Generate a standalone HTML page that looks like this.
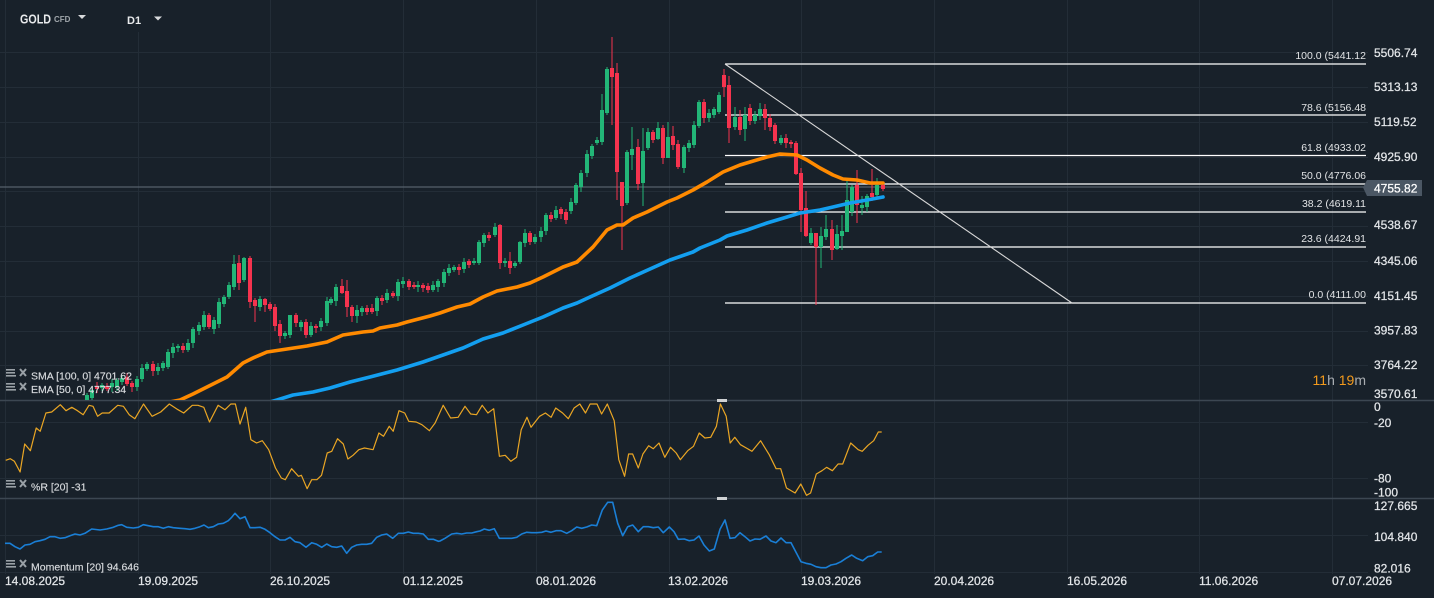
<!DOCTYPE html>
<html><head><meta charset="utf-8">
<style>
html,body{margin:0;padding:0;background:#18212a;overflow:hidden;}
svg{display:block;font-family:"Liberation Sans",Arial,sans-serif;}
</style></head>
<body>
<svg id="c" width="1434" height="598" viewBox="0 0 1434 598" xmlns="http://www.w3.org/2000/svg">
<defs><clipPath id="mp"><rect x="0" y="0" width="1368" height="400"/></clipPath></defs>
<rect width="1434" height="598" fill="#18212a"/>
<g id="grid" stroke="#232d37" stroke-width="1" shape-rendering="crispEdges"></g>
<rect x="100" y="0" width="80" height="32" fill="#18212a"/>
<!-- pane separators -->
<line x1="0" y1="400.5" x2="1434" y2="400.5" stroke="#3c4752" stroke-width="1.5"/>
<line x1="0" y1="498.5" x2="1434" y2="498.5" stroke="#3c4752" stroke-width="1.5"/>
<rect x="717" y="399" width="10" height="3" fill="#cfd2d4"/>
<rect x="717" y="497" width="10" height="3" fill="#cfd2d4"/>
<!-- current price line -->
<line x1="0" y1="187" x2="1366" y2="187" stroke="#56616b" stroke-width="1.3"/>
<!-- fib -->
<g stroke="#ffffff" stroke-width="1.3">
<line x1="725" y1="64" x2="1366" y2="64"/>
<line x1="725" y1="115" x2="1366" y2="115"/>
<line x1="725" y1="155.5" x2="1366" y2="155.5"/>
<line x1="725" y1="184" x2="1366" y2="184"/>
<line x1="725" y1="212" x2="1366" y2="212"/>
<line x1="725" y1="247" x2="1366" y2="247"/>
<line x1="725" y1="303" x2="1366" y2="303"/>
</g>
<line x1="725" y1="64" x2="1072" y2="303" stroke="#d8d8d8" stroke-width="1.1"/>
<g fill="#e2e4e6" font-size="10.5" text-anchor="end">
<text x="1366" y="59">100.0 (5441.12</text>
<text x="1366" y="111">78.6 (5156.48</text>
<text x="1366" y="151">61.8 (4933.02</text>
<text x="1366" y="179">50.0 (4776.06</text>
<text x="1366" y="207">38.2 (4619.11</text>
<text x="1366" y="242">23.6 (4424.91</text>
<text x="1366" y="298">0.0 (4111.00</text>
</g>
<g id="candles" clip-path="url(#mp)"></g>
<g clip-path="url(#mp)" fill="none" stroke-linejoin="round" stroke-linecap="round">
<polyline id="ema" stroke="#ff8a00" stroke-width="3.6"/>
<polyline id="sma" stroke="#139ff0" stroke-width="3.6"/>
</g>
<polyline id="wr" fill="none" stroke="#eaa624" stroke-width="1.2" stroke-linejoin="round"/>
<polyline id="mom" fill="none" stroke="#1a7fd6" stroke-width="1.6" stroke-linejoin="round"/>
<!-- right axis labels -->
<g fill="#e2e5e8" stroke="#e2e5e8" stroke-width="0.25" font-size="12">
<text x="1374" y="57">5506.74</text>
<text x="1374" y="91">5313.13</text>
<text x="1374" y="126">5119.52</text>
<text x="1374" y="161">4925.90</text>
<text x="1374" y="229">4538.67</text>
<text x="1374" y="265">4345.06</text>
<text x="1374" y="300">4151.45</text>
<text x="1374" y="334.5">3957.83</text>
<text x="1374" y="369">3764.22</text>
<text x="1374" y="398">3570.61</text>
<text x="1374" y="411">0</text>
<text x="1374" y="427">-20</text>
<text x="1374" y="482.5">-80</text>
<text x="1374" y="496.5">-100</text>
<text x="1374" y="510">127.665</text>
<text x="1374" y="541">104.840</text>
<text x="1374" y="572.5">82.016</text>
</g>
<polygon points="1363,187.5 1367,180 1422,180 1422,196 1367,196" fill="#4b5764"/>
<text x="1374" y="192.5" fill="#ffffff" stroke="#ffffff" stroke-width="0.25" font-size="12">4755.82</text>
<text x="1366" y="385" font-size="14" text-anchor="end"><tspan fill="#f39a1c">11</tspan><tspan fill="#a9adb1">h </tspan><tspan fill="#f39a1c">19</tspan><tspan fill="#a9adb1">m</tspan></text>
<!-- date axis -->
<g fill="#e2e5e8" stroke="#e2e5e8" stroke-width="0.25" font-size="12">
<text x="5" y="585">14.08.2025</text>
<text x="138" y="585">19.09.2025</text>
<text x="270" y="585">26.10.2025</text>
<text x="403" y="585">01.12.2025</text>
<text x="536" y="585">08.01.2026</text>
<text x="668" y="585">13.02.2026</text>
<text x="801" y="585">19.03.2026</text>
<text x="934" y="585">20.04.2026</text>
<text x="1067" y="585">16.05.2026</text>
<text x="1199" y="585">11.06.2026</text>
<text x="1332" y="585">07.07.2026</text>
</g>
<!-- header -->
<text x="20" y="23.5" fill="#e8eaec" font-size="12.5" font-weight="bold" textLength="31" lengthAdjust="spacingAndGlyphs">GOLD</text>
<text x="54" y="22" fill="#a0a6ab" font-size="8" font-weight="bold">CFD</text>
<polygon points="78,15 86,15 82,19" fill="#d8dadc"/>
<text x="127" y="24" fill="#e8eaec" font-size="11" font-weight="bold">D1</text>
<polygon points="154,16.5 162,16.5 158,20.5" fill="#d8dadc"/>
<!-- legends -->
<g id="leg"></g>
<g fill="#d9dcdf" stroke="#d9dcdf" stroke-width="0.15" font-size="10.5">
<text x="31" y="379.5">SMA [100, 0] 4701.62</text>
<text x="31" y="393">EMA [50, 0] 4777.34</text>
<text x="31" y="490.5">%R [20] -31</text>
<text x="31" y="570.5">Momentum [20] 94.646</text>
</g>
</svg>
<script>
(function(){
var NS="http://www.w3.org/2000/svg";
function el(t,a,p){var e=document.createElementNS(NS,t);for(var k in a)e.setAttribute(k,a[k]);p.appendChild(e);return e;}
var g=document.getElementById('grid');
[52,87,121.5,156.5,191,226,261,295.5,330.5,365,422,478,535,571.5].forEach(function(y){el('line',{x1:0,y1:Math.round(y)+.5,x2:1368,y2:Math.round(y)+.5},g);});
for(var k=0;k<=10;k++){var x=Math.round(5+k*132.7)+.5;el('line',{x1:x,y1:0,x2:x,y2:574},g);}
var C=[[87,395,400,1],[92,390,398,1],[97,386,389,0],[102,385,388,1],[107,386,389,0],[112,383,387,1],[117,380,387,1],[122,378,382,1],[127,377,384,0],[132,383,387,0],[137,379,387,1],[142,368,379,1],[147,364,369,1],[153,364,371,0],[158,367,371,1],[163,363,368,1],[168,352,367,1],[173,347,353,1],[178,346,348,1],[183,346,350,0],[188,343,350,1],[193,329,343,1],[199,325,331,1],[204,315,327,1],[209,315,327,0],[214,320,329,1],[219,302,324,1],[224,297,304,1],[229,285,297,1],[234,264,287,1],[239,263,283,0],[244,258,280,1],[250,258,302,0],[255,300,306,0],[260,299,307,1],[265,299,305,0],[270,304,309,0],[275,307,326,0],[280,324,336,0],[285,333,336,1],[290,315,335,1],[296,315,323,0],[301,322,327,1],[306,322,335,0],[311,326,335,1],[316,326,328,0],[321,321,327,1],[327,301,323,1],[331,299,303,1],[336,287,301,1],
[342,286,293,0],[347,291,307,0],[352,307,316,0],[357,310,316,1],[362,308,312,1],[367,308,312,0],[372,308,312,0],[377,298,311,1],[382,298,301,0],[387,293,300,1],[393,293,296,0],[398,282,296,1],[403,281,284,1],[409,281,287,0],[414,285,287,0],[418,285,287,1],[423,285,288,0],[428,286,290,0],[433,285,290,1],[438,281,287,1],[444,272,283,1],[449,268,273,1],[454,267,270,1],[459,267,270,0],[464,262,269,1],[469,261,265,0],[474,261,263,1],[479,242,263,1],[484,235,243,1],[489,235,238,0],[495,227,235,1],[500,225,263,0],[505,261,263,1],[510,261,268,0],[515,263,266,1],[520,242,262,1],[525,233,243,1],[530,233,242,0],[535,237,242,1],[541,231,237,1],[546,215,231,1],[551,215,219,0],[556,210,218,1],[561,209,214,0],[566,212,220,0],
[571,202,211,1],[576,185,203,1],[581,173,187,1],[587,154,173,1],[592,146,156,1],[597,140,143,1],[602,110,142,1],[607,69,113,1],[612,68,77,0],[617,73,172,0],[622,182,206,0],[627,152,203,1],[632,149,155,1],[638,147,184,0],[643,151,183,1],[648,132,148,1],[653,132,140,0],[658,128,139,1],[663,128,158,0],[668,137,158,1],[673,136,145,0],[678,144,167,0],[684,147,168,1],[689,143,148,1],[694,125,145,1],[699,102,126,1],[704,102,118,0],[709,113,118,1],[714,109,115,1],[719,95,112,1],[724,75,87,0],[729,85,128,0],
[735,117,127,1],[740,117,130,0],[745,115,129,1],[750,108,121,0],[755,115,121,1],[760,109,116,1],[765,109,118,0],[770,118,127,0],[775,125,141,0],[781,138,143,1],[786,138,143,0],[791,142,144,0],[796,143,174,0],[801,173,210,0],[806,208,236,0],[811,233,243,1],[816,233,247,0],[821,236,247,1],[826,229,237,1],[832,229,250,0],[837,234,249,1],[842,231,236,1],[847,200,232,1],[852,187,212,1],[857,185,205,0],[862,205,208,1],[867,196,207,1],[872,193,197,0],[877,185,195,1],[883,185,189,0]];
var W={612:[37,125],617:[63,200],622:[182,250],724:[69,97],729:[76,143],816:[233,305],857:[170,223],862:[196,215],872:[169,201],250:[256,308],239:[255,290],234:[255,290],244:[257,282],255:[298,322],265:[298,312],280:[320,343],290:[315,338],296:[313,327],347:[280,317],342:[279,294],352:[305,322],357:[305,323],500:[224,269],479:[240,265],510:[252,274],520:[241,264],602:[94,145],607:[67,115],627:[150,205],632:[127,170],638:[139,190],643:[128,206],648:[128,150],658:[122,140],663:[125,164],668:[122,158],673:[126,150],735:[107,130],740:[110,135],745:[107,141],750:[104,125],760:[103,120],765:[104,130],796:[141,175],801:[168,232],806:[191,237],811:[228,245],821:[227,268],826:[215,240],832:[220,260],837:[225,250],842:[215,250],847:[180,232],877:[178,197]};
var cg=document.getElementById('candles');
C.forEach(function(c,i){var col=c[3]?'#22b677':'#f5334e';var w=W[c[0]]||[c[1]-2-(i%3),c[2]+2+((i*7)%4)];
el('rect',{x:c[0]-0.5,y:w[0],width:1,height:w[1]-w[0],fill:col},cg);
el('rect',{x:c[0]-2,y:c[1],width:4,height:Math.max(1.5,c[2]-c[1]),fill:col},cg);});
var ema=[[170,402],[180,400],[193,394],[213,384],[227,377],[243,363],[253,358],[267,352],[287,349],[307,346],[327,342],[343,335],[363,332],[373,331],[380,328],[397,325],[407,322],[430,316],[440,313],[457,307],[470,304],[483,297],[497,291],[517,287],[530,283],[543,277],[563,267],[577,262],[593,247],[607,230],[617,225],[623,225],[633,218],[647,212],[667,202],[677,198],[693,190],[707,182],[723,172],[740,165],[750,162],[767,157],[780,154],[797,155],[807,160],[820,168],[833,175],[843,179],[857,180],[870,183],[883,183]];
var sma=[[270,402],[277,400],[293,395],[313,392],[330,388],[350,382],[370,377],[397,370],[423,362],[443,355],[463,348],[483,339],[503,333],[523,325],[543,317],[563,308],[577,303],[590,297],[610,288],[630,278],[650,269],[670,260],[693,252],[700,248],[720,240],[727,236],[747,230],[767,223],[787,217],[800,213],[820,210],[833,207],[850,203],[867,200],[883,197]];
function pts(a){return a.map(function(p){return p[0].toFixed(1)+','+p[1].toFixed(1);}).join(' ');}
document.getElementById('ema').setAttribute('points',pts(ema));
document.getElementById('sma').setAttribute('points',pts(sma));
var wr=[[10,187],[18,182],[25,190],[35,222],[43,138],[53,158],[63,90],[70,100],[80,45],[90,42],[105,20],[115,38],[125,28],[135,38],[145,50],[155,22],[162,25],[170,55],[178,45],[190,45],[205,22],[215,25],[225,50],[235,62],[250,18],[265,55],[280,42],[295,18],[310,35],[320,45],[335,22],[345,22],[355,28],[365,72],[380,22],[392,35],[402,18],[410,18],[418,78],[428,28],[437,125],[447,135],[457,128],[468,155],[480,210],[490,240],[497,245],[508,212],[520,235],[525,232],[535,272],[543,245],[552,245],[560,232],[570,165],[578,160],[588,122],[598,138],[606,183],[615,172],[625,155],[635,150],[650,155],[660,105],[668,115],[678,85],[685,100],[695,38],[705,45],[712,70],[725,72],[735,80],[748,98],[758,75],[772,22],[785,60],[798,58],[810,25],[820,48],[830,50],[840,22],[850,45],[860,32],[870,175],[880,172],[890,190],[900,178],[908,95],[918,58],[925,88],[940,55],[950,45],[960,58],[968,30],[980,45],[990,62],[1000,30],[1010,18],[1020,45],[1028,18],[1040,18],[1048,48],[1058,18],[1070,68],[1078,185],[1088,235],[1095,168],[1102,168],[1112,210],[1120,168],[1130,143],[1138,152],[1148,135],[1158,178],[1168,148],[1178,165],[1185,185],[1198,158],[1208,145],[1218,105],[1228,120],[1238,118],[1248,85],[1255,18],[1265,55],[1272,135],[1280,118],[1290,140],[1300,150],[1310,160],[1325,128],[1340,170],[1352,212],[1360,212],[1370,270],[1385,285],[1395,258],[1405,292],[1412,285],[1422,228],[1432,218],[1440,208],[1450,218],[1460,198],[1468,198],[1482,135],[1495,155],[1502,160],[1512,142],[1522,128],[1530,102],[1536,102]].map(function(p){return [p[0]/1.742,p[1]/3+398];});
document.getElementById('wr').setAttribute('points',pts(wr));
var m1=[[15,160],[30,160],[45,170],[60,177],[75,165],[90,163],[105,155],[120,152],[135,148],[150,140],[165,140],[180,145],[195,143],[210,137],[225,132],[240,135],[255,130],[275,117],[300,120],[320,117],[340,112],[355,106],[365,104],[380,112],[400,114],[415,112],[430,104],[445,107],[460,110],[475,110],[490,115],[505,110],[520,113],[540,115],[555,116],[570,118],[585,115],[600,110],[612,105],[625,113],[640,110],[655,102],[670,100],[685,92],[695,82],[705,70],[720,86],[735,80],[750,113],[765,113],[780,112],[795,118],[810,128],[825,140],[840,150],[855,150],[870,142],[885,155],[900,158],[918,172],[935,158],[950,163],[965,172],[980,162],[995,170],[1010,172],[1025,168],[1040,190],[1055,172],[1070,165],[1085,163],[1100,163],[1115,160],[1130,142],[1145,135],[1160,132],[1178,145],[1195,130],[1210,130],[1225,126],[1240,130],[1255,130],[1270,132],[1285,148],[1300,148],[1315,154]].map(function(p){return [p[0]/3,p[1]/3+490];});
var m2=[[0,138],[15,130],[35,117],[50,115],[65,117],[80,114],[95,114],[110,110],[120,108],[133,102],[148,106],[163,101],[178,130],[195,130],[215,130],[230,127],[245,117],[260,112],[275,113],[290,113],[305,112],[318,108],[333,112],[348,107],[363,107],[380,115],[395,107],[410,96],[425,100],[440,96],[455,90],[470,92],[487,45],[503,22],[518,22],[533,85],[548,122],[563,95],[578,90],[595,110],[610,95],[625,95],[640,98],[655,96],[670,113],[688,96],[702,110],[715,133],[733,132],[748,137],[762,135],[777,123],[792,150],[808,168],[823,162],[840,103],[855,75],[870,130],[885,128],[900,113],[915,125],[930,138],[945,132],[960,133],[978,123],[993,138],[1008,143],[1023,129],[1038,143],[1053,143],[1068,172],[1083,200],[1098,205],[1113,208],[1128,215],[1143,218],[1158,218],[1173,210],[1188,207],[1203,200],[1218,190],[1235,180],[1250,190],[1268,197],[1283,185],[1298,182],[1313,171],[1325,171]].map(function(p){return [p[0]/3+440,p[1]/3+495];});
document.getElementById('mom').setAttribute('points',pts(m1.concat(m2)));
var lg=document.getElementById('leg');
[373,387,484,564].forEach(function(y){
el('rect',{x:6,y:y-4,width:10,height:7,fill:'#18212a'},lg);
el('rect',{x:6,y:y-4,width:9,height:1.6,fill:'#9aa1a7'},lg);
el('rect',{x:6,y:y-1,width:9,height:1.6,fill:'#9aa1a7'},lg);
el('rect',{x:6,y:y+2,width:10,height:1.6,fill:'#9aa1a7'},lg);
el('path',{d:'M20 '+(y-4)+' L26 '+(y+3)+' M26 '+(y-4)+' L20 '+(y+3),stroke:'#9aa1a7','stroke-width':2},lg);
});
})();
</script>
</body></html>
